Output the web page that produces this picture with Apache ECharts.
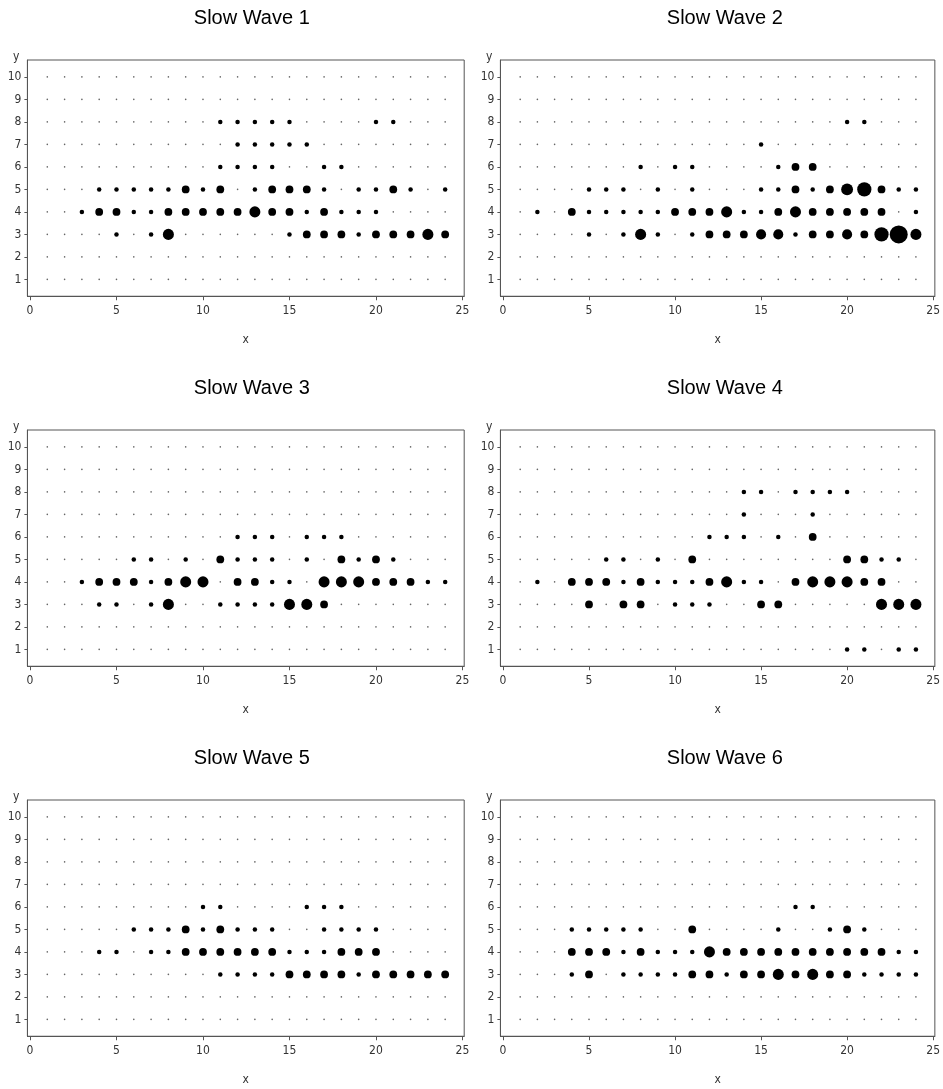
<!DOCTYPE html>
<html>
<head>
<meta charset="utf-8">
<title>Slow Wave 1–6</title>
<script src="https://cdn.jsdelivr.net/npm/echarts@6/dist/echarts.min.js"></script>
<style>
  html, body { margin: 0; padding: 0; background: #fff; }
  #chart { width: 943px; height: 1089px; }
</style>
</head>
<body>
<div id="chart"></div>
<script>
// Panel titles
const panelTitles = ['Slow Wave 1', 'Slow Wave 2', 'Slow Wave 3', 'Slow Wave 4', 'Slow Wave 5', 'Slow Wave 6'];

// Grid positions (x = 1..24, y = 1..10)
const gridX = [1,2,3,4,5,6,7,8,9,10,11,12,13,14,15,16,17,18,19,20,21,22,23,24];
const gridY = [1,2,3,4,5,6,7,8,9,10];

// Tick labels
const xTicks = [0, 5, 10, 15, 20, 25];
const yTicks = [1, 2, 3, 4, 5, 6, 7, 8, 9, 10];

// Bubble data per wave: [x, y, count]
const wave1 = [
  [11,8,1],[12,8,1],[13,8,1],[14,8,1],[15,8,1],[20,8,1],[21,8,1],
  [12,7,1],[13,7,1],[14,7,1],[15,7,1],[16,7,1],
  [11,6,1],[12,6,1],[13,6,1],[14,6,1],[17,6,1],[18,6,1],
  [4,5,1],[5,5,1],[6,5,1],[7,5,1],[8,5,1],[9,5,3],[10,5,1],[11,5,3],[13,5,1],[14,5,3],[15,5,3],[16,5,3],[17,5,1],[19,5,1],[20,5,1],[21,5,3],[22,5,1],[24,5,1],
  [3,4,1],[4,4,3],[5,4,3],[6,4,1],[7,4,1],[8,4,3],[9,4,3],[10,4,3],[11,4,3],[12,4,3],[13,4,6],[14,4,3],[15,4,3],[16,4,1],[17,4,3],[18,4,1],[19,4,1],[20,4,1],
  [5,3,1],[7,3,1],[8,3,6],[15,3,1],[16,3,3],[17,3,3],[18,3,3],[19,3,1],[20,3,3],[21,3,3],[22,3,3],[23,3,6],[24,3,3]
];
const wave2 = [
  [20,8,1],[21,8,1],
  [15,7,1],
  [8,6,1],[10,6,1],[11,6,1],[16,6,1],[17,6,3],[18,6,3],
  [5,5,1],[6,5,1],[7,5,1],[9,5,1],[11,5,1],[15,5,1],[16,5,1],[17,5,3],[18,5,1],[19,5,3],[20,5,7],[21,5,10],[22,5,3],[23,5,1],[24,5,1],
  [2,4,1],[4,4,3],[5,4,1],[6,4,1],[7,4,1],[8,4,1],[9,4,1],[10,4,3],[11,4,3],[12,4,3],[13,4,6],[14,4,1],[15,4,1],[16,4,3],[17,4,6],[18,4,3],[19,4,3],[20,4,3],[21,4,3],[22,4,3],[24,4,1],
  [5,3,1],[7,3,1],[8,3,6],[9,3,1],[11,3,1],[12,3,3],[13,3,3],[14,3,3],[15,3,5],[16,3,5],[17,3,1],[18,3,3],[19,3,3],[20,3,5],[21,3,3],[22,3,10],[23,3,16],[24,3,6]
];
const wave3 = [
  [12,6,1],[13,6,1],[14,6,1],[16,6,1],[17,6,1],[18,6,1],
  [6,5,1],[7,5,1],[9,5,1],[11,5,3],[12,5,1],[13,5,1],[14,5,1],[16,5,1],[18,5,3],[19,5,1],[20,5,3],[21,5,1],
  [3,4,1],[4,4,3],[5,4,3],[6,4,3],[7,4,1],[8,4,3],[9,4,6],[10,4,6],[12,4,3],[13,4,3],[14,4,1],[15,4,1],[17,4,6],[18,4,6],[19,4,6],[20,4,3],[21,4,3],[22,4,3],[23,4,1],[24,4,1],
  [4,3,1],[5,3,1],[7,3,1],[8,3,6],[11,3,1],[12,3,1],[13,3,1],[14,3,1],[15,3,6],[16,3,6],[17,3,3]
];
const wave4 = [
  [14,8,1],[15,8,1],[17,8,1],[18,8,1],[19,8,1],[20,8,1],
  [14,7,1],[18,7,1],
  [12,6,1],[13,6,1],[14,6,1],[16,6,1],[18,6,3],
  [6,5,1],[7,5,1],[9,5,1],[11,5,3],[20,5,3],[21,5,3],[22,5,1],[23,5,1],
  [2,4,1],[4,4,3],[5,4,3],[6,4,3],[7,4,1],[8,4,3],[9,4,1],[10,4,1],[11,4,1],[12,4,3],[13,4,6],[14,4,1],[15,4,1],[17,4,3],[18,4,6],[19,4,6],[20,4,6],[21,4,3],[22,4,3],
  [5,3,3],[7,3,3],[8,3,3],[10,3,1],[11,3,1],[12,3,1],[15,3,3],[16,3,3],[22,3,6],[23,3,6],[24,3,6],
  [20,1,1],[21,1,1],[23,1,1],[24,1,1]
];
const wave5 = [
  [10,6,1],[11,6,1],[16,6,1],[17,6,1],[18,6,1],
  [6,5,1],[7,5,1],[8,5,1],[9,5,3],[10,5,1],[11,5,3],[12,5,1],[13,5,1],[14,5,1],[17,5,1],[18,5,1],[19,5,1],[20,5,1],
  [4,4,1],[5,4,1],[7,4,1],[8,4,1],[9,4,3],[10,4,3],[11,4,3],[12,4,3],[13,4,3],[14,4,3],[15,4,1],[16,4,1],[17,4,1],[18,4,3],[19,4,3],[20,4,3],
  [11,3,1],[12,3,1],[13,3,1],[14,3,1],[15,3,3],[16,3,3],[17,3,3],[18,3,3],[19,3,1],[20,3,3],[21,3,3],[22,3,3],[23,3,3],[24,3,3]
];
const wave6 = [
  [17,6,1],[18,6,1],
  [4,5,1],[5,5,1],[6,5,1],[7,5,1],[8,5,1],[11,5,3],[16,5,1],[19,5,1],[20,5,3],[21,5,1],
  [4,4,3],[5,4,3],[6,4,3],[7,4,1],[8,4,3],[9,4,1],[10,4,1],[11,4,1],[12,4,6],[13,4,3],[14,4,3],[15,4,3],[16,4,3],[17,4,3],[18,4,3],[19,4,3],[20,4,3],[21,4,3],[22,4,3],[23,4,1],[24,4,1],
  [4,3,1],[5,3,3],[7,3,1],[8,3,1],[9,3,1],[10,3,1],[11,3,3],[12,3,3],[13,3,1],[14,3,3],[15,3,3],[16,3,6],[17,3,3],[18,3,6],[19,3,3],[20,3,3],[21,3,1],[22,3,1],[23,3,1],[24,3,1]
];
const waves = [wave1, wave2, wave3, wave4, wave5, wave6];

// Layout: two columns, three rows
const colLeft = [27.4, 500.4];
const rowTop = [60, 430, 800];
const titleTop = [3, 373, 743];
const plotW = 436.8;
const plotH = 236.25;

const labelFont = '"Liberation Sans Narrow", "DejaVu Sans Condensed", "Liberation Sans", sans-serif';
const axisColor = '#555';
const textColor = '#333';

// every grid point as a faint dot
const baseDots = [];
gridY.forEach(function (y) { gridX.forEach(function (x) { baseDots.push([x, y]); }); });

const grids = [], xAxes = [], yAxes = [], titles = [], series = [];
waves.forEach(function (data, i) {
  const col = i % 2, row = Math.floor(i / 2);
  const left = colLeft[col], top = rowTop[row];
  grids.push({
    left: left, top: top, width: plotW, height: plotH,
    show: true, borderColor: axisColor, borderWidth: 1, backgroundColor: 'transparent'
  });
  titles.push({
    text: panelTitles[i],
    left: left + plotW / 2 + 1,
    top: titleTop[row],
    textAlign: 'center',
    textStyle: { fontFamily: '"Liberation Sans", Arial, sans-serif', fontSize: 20, fontWeight: 'normal', color: '#000' }
  });
  xAxes.push({
    gridIndex: i, type: 'value', min: -0.15, max: 25.1,
    name: 'x', nameLocation: 'middle', nameGap: 38,
    nameTextStyle: { fontFamily: labelFont, fontSize: 12, color: textColor },
    axisLine: { show: true, onZero: false, lineStyle: { color: axisColor, width: 1 } },
    axisTick: { show: true, length: 4, customValues: xTicks, lineStyle: { color: axisColor } },
    axisLabel: { customValues: xTicks, margin: 9, fontFamily: labelFont, fontSize: 12, color: textColor },
    splitLine: { show: false }
  });
  yAxes.push({
    gridIndex: i, type: 'value', min: 0.25, max: 10.75,
    name: 'y', nameLocation: 'end', nameGap: 3,
    nameTextStyle: { fontFamily: labelFont, fontSize: 12, color: textColor, align: 'right', verticalAlign: 'middle', padding: [0, 8, 0, 0] },
    axisLine: { show: true, onZero: false, lineStyle: { color: axisColor, width: 1 } },
    axisTick: { show: true, length: 3, customValues: yTicks, lineStyle: { color: axisColor } },
    axisLabel: { customValues: yTicks, margin: 6, fontFamily: labelFont, fontSize: 12, color: textColor },
    splitLine: { show: false }
  });
  series.push({
    type: 'scatter', xAxisIndex: i, yAxisIndex: i, data: baseDots,
    symbol: 'circle', symbolSize: 1.6, itemStyle: { color: '#666', opacity: 1 }, silent: true, z: 1
  });
  series.push({
    type: 'scatter', xAxisIndex: i, yAxisIndex: i, data: data,
    symbol: 'circle',
    symbolSize: function (d) { return 4.5 * Math.sqrt(d[2]); },
    itemStyle: { color: '#000', opacity: 1 }, silent: true, z: 2
  });
});

const chart = echarts.init(document.getElementById('chart'), null, { renderer: 'canvas' });
chart.setOption({
  animation: false,
  backgroundColor: '#fff',
  title: titles,
  grid: grids,
  xAxis: xAxes,
  yAxis: yAxes,
  series: series
});
</script>
</body>
</html>
